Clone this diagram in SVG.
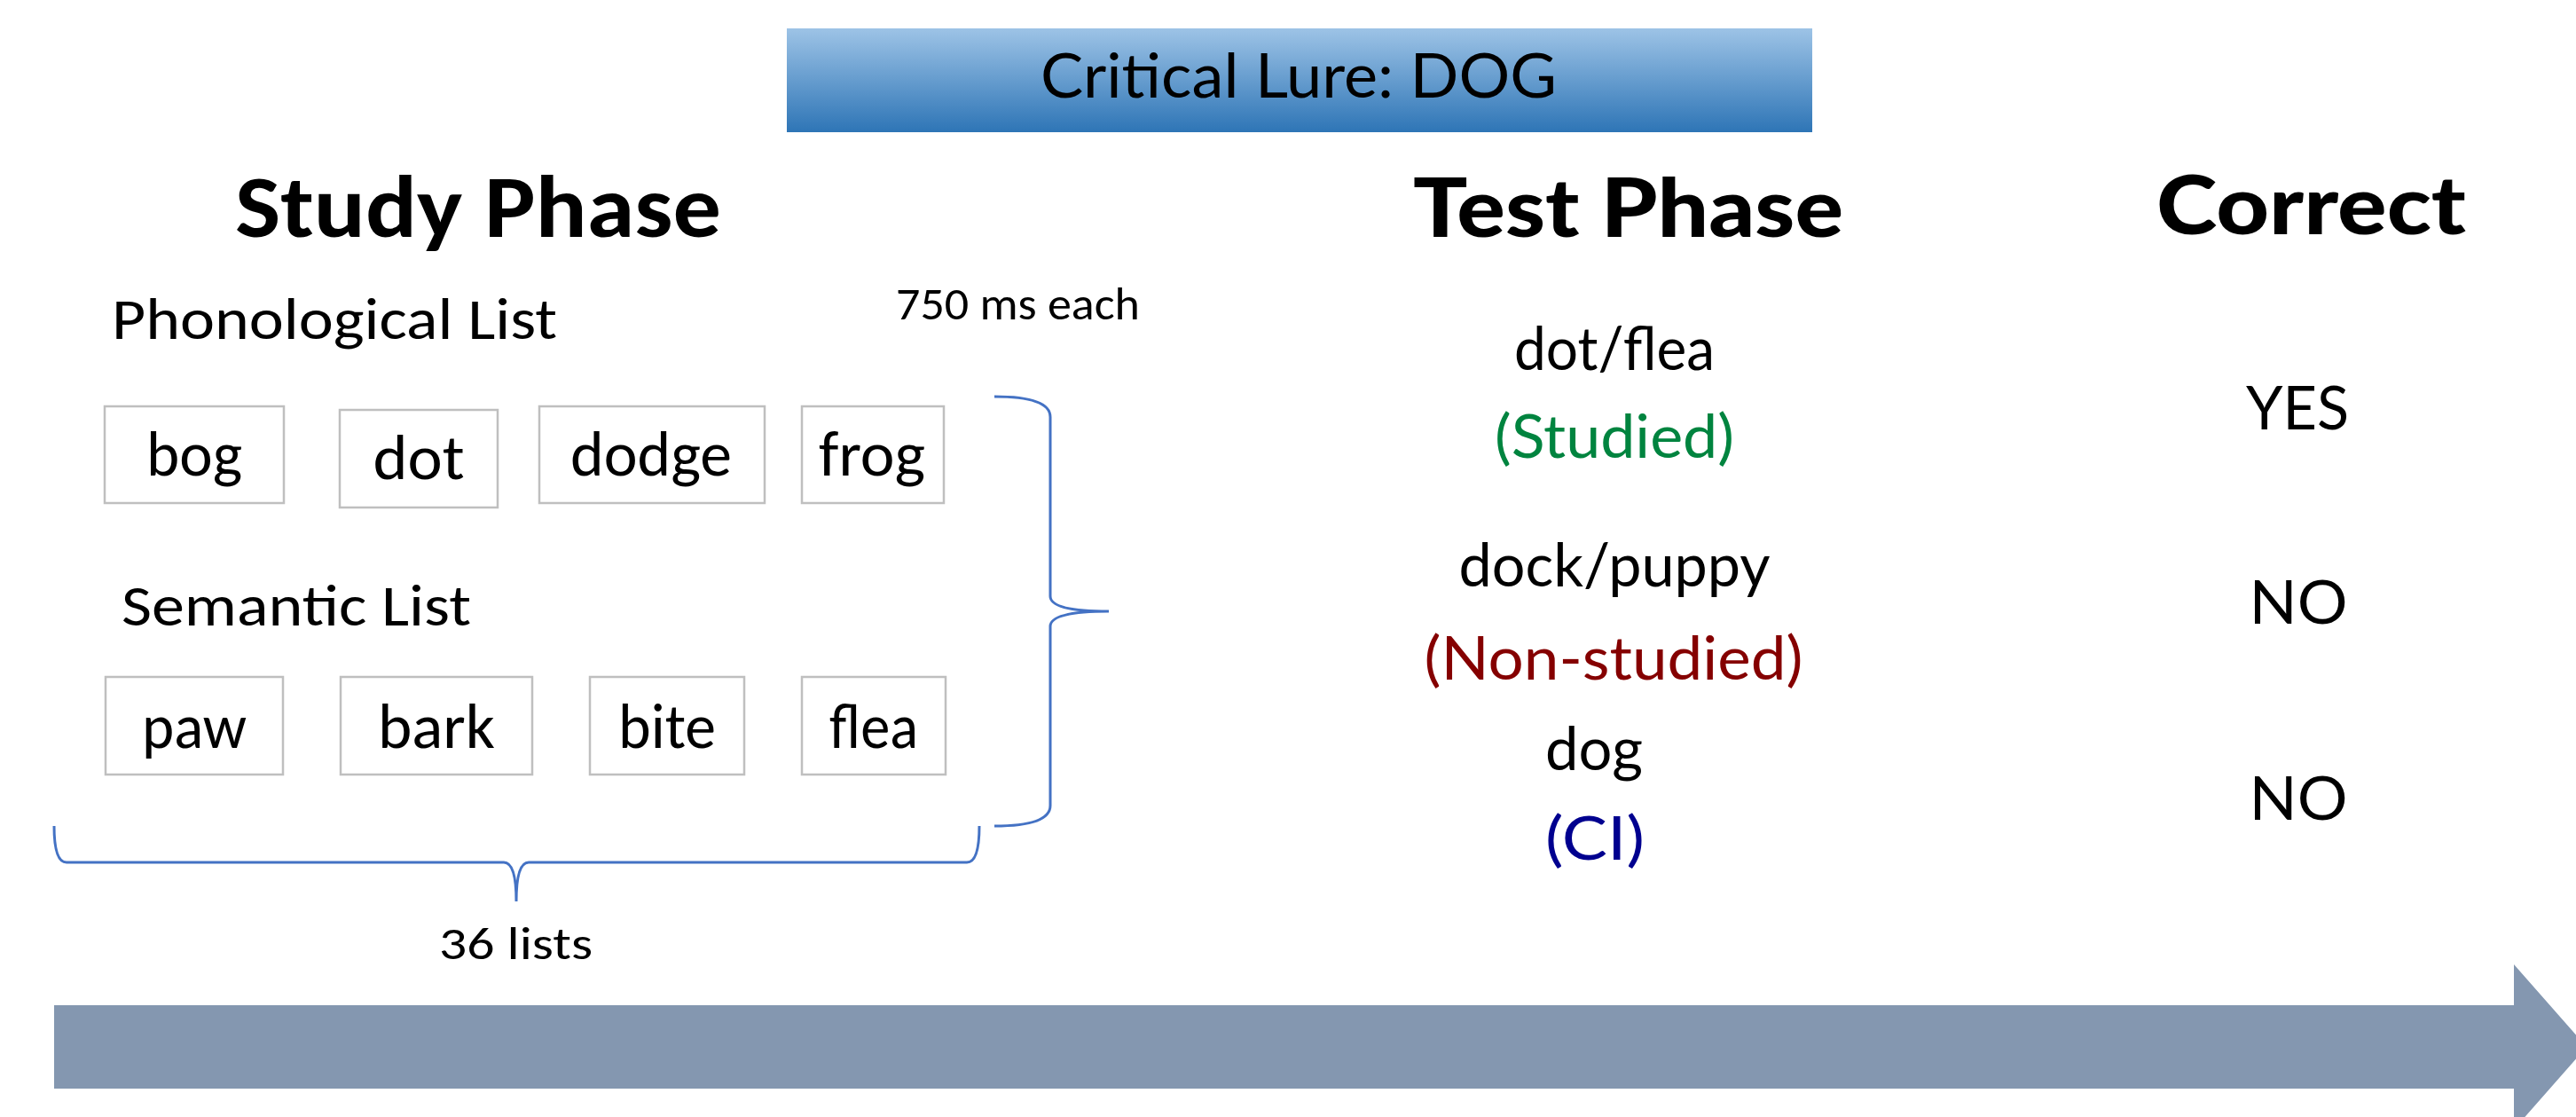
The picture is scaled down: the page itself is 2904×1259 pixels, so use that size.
<svg xmlns="http://www.w3.org/2000/svg" width="2904" height="1259" viewBox="0 0 2904 1259">
<defs>
<linearGradient id="tg" x1="0" y1="0" x2="0" y2="1">
<stop offset="0" stop-color="#9DC3E6"/>
<stop offset="1" stop-color="#2E75B6"/>
</linearGradient>
<style>
.c{font-family:Carlito,Calibri,Lato,"Liberation Sans",sans-serif;fill:#000}
.g{font-family:"Gill Sans MT","Gill Sans",Lato,"Liberation Sans",sans-serif;fill:#000}
.box{fill:#fff;stroke:#BFBFBF;stroke-width:2.5}
.brace{fill:none;stroke:#4472C4;stroke-width:3}
.w{font-size:72px;text-anchor:middle}
.t{font-size:67px;text-anchor:middle}
.h{font-weight:900;font-size:92px}
</style>
</defs>
<rect width="2904" height="1259" fill="#fff"/>
<g id="title">
<rect x="887" y="32" width="1156" height="117" fill="url(#tg)"/>
<text class="g" x="1464" y="110" font-size="70" text-anchor="middle" textLength="582" lengthAdjust="spacingAndGlyphs">Critical Lure: DOG</text>
</g>
<g id="headers">
<text class="c" x="265" y="267" font-weight="bold" font-size="100" textLength="548" lengthAdjust="spacingAndGlyphs">Study Phase</text>
<text class="g h" x="1593" y="267" textLength="485" lengthAdjust="spacingAndGlyphs">Test Phase</text>
<text class="g h" x="2431" y="264" textLength="349" lengthAdjust="spacingAndGlyphs">Correct</text>
</g>
<g id="labels">
<text class="c" x="126" y="382" font-size="66" textLength="502" lengthAdjust="spacingAndGlyphs">Phonological List</text>
<text class="c" x="137" y="705" font-size="66" textLength="394" lengthAdjust="spacingAndGlyphs">Semantic List</text>
<text class="c" x="1010" y="360" font-size="52" textLength="275" lengthAdjust="spacingAndGlyphs">750 ms each</text>
<text class="c" x="495" y="1081" font-size="52" textLength="173" lengthAdjust="spacingAndGlyphs">36 lists</text>
</g>
<g id="phon-list">
<g id="n-bog"><rect class="box" x="118" y="458" width="202" height="109"/><text class="c w" x="219" y="536" textLength="108" lengthAdjust="spacingAndGlyphs">bog</text></g>
<g id="n-dot"><rect class="box" x="383" y="462" width="178" height="110"/><text class="c w" x="472" y="540" textLength="103" lengthAdjust="spacingAndGlyphs">dot</text></g>
<g id="n-dodge"><rect class="box" x="608" y="458" width="254" height="109"/><text class="c w" x="734" y="536" textLength="182" lengthAdjust="spacingAndGlyphs">dodge</text></g>
<g id="n-frog"><rect class="box" x="904" y="458" width="160" height="109"/><text class="c w" x="983" y="536" textLength="120" lengthAdjust="spacingAndGlyphs">frog</text></g>
</g>
<g id="sem-list">
<g id="n-paw"><rect class="box" x="119" y="763" width="200" height="110"/><text class="c w" x="219" y="843" textLength="118" lengthAdjust="spacingAndGlyphs">paw</text></g>
<g id="n-bark"><rect class="box" x="384" y="763" width="216" height="110"/><text class="c w" x="492" y="843" textLength="132" lengthAdjust="spacingAndGlyphs">bark</text></g>
<g id="n-bite"><rect class="box" x="665" y="763" width="174" height="110"/><text class="c w" x="752" y="843" textLength="110" lengthAdjust="spacingAndGlyphs">bite</text></g>
<g id="n-flea"><rect class="box" x="904" y="763" width="162" height="110"/><text class="c w" x="985" y="843" textLength="100" lengthAdjust="spacingAndGlyphs">flea</text></g>
</g>
<g id="connectors">
<path class="brace" d="M1121,447 Q1184,447 1184,470 L1184,672 Q1184,689 1250,689 Q1184,689 1184,706 L1184,908 Q1184,931 1121,931"/>
<path class="brace" d="M61,931 Q61,972 75,972 L568,972 Q582,972 582,1016 Q582,972 596,972 L1090,972 Q1104,972 1104,931"/>
</g>
<g id="test">
<text class="g t" x="1820" y="417" textLength="226" lengthAdjust="spacingAndGlyphs">dot/flea</text>
<text class="g t" x="1820" y="516" style="fill:#00843F" textLength="270" lengthAdjust="spacingAndGlyphs">(Studied)</text>
<text class="g t" x="1820" y="661" textLength="351" lengthAdjust="spacingAndGlyphs">dock/puppy</text>
<text class="g t" x="1819" y="766" style="fill:#850000" textLength="427" lengthAdjust="spacingAndGlyphs">(Non-studied)</text>
<text class="g t" x="1797" y="868" textLength="110" lengthAdjust="spacingAndGlyphs">dog</text>
<text class="g t" x="1798" y="969" style="fill:#00008F" textLength="112" lengthAdjust="spacingAndGlyphs">(CI)</text>
</g>
<g id="correct">
<text class="g" x="2590" y="484" font-size="68" text-anchor="middle" textLength="116" lengthAdjust="spacingAndGlyphs">YES</text>
<text class="g" x="2591" y="703" font-size="68" text-anchor="middle" textLength="111" lengthAdjust="spacingAndGlyphs">NO</text>
<text class="g" x="2591" y="924" font-size="68" text-anchor="middle" textLength="111" lengthAdjust="spacingAndGlyphs">NO</text>
</g>
<g id="timeline">
<polygon points="61,1133 2834,1133 2834,1087 2916,1180 2834,1273 2834,1227 61,1227" fill="#8497B0"/>
</g>
</svg>
